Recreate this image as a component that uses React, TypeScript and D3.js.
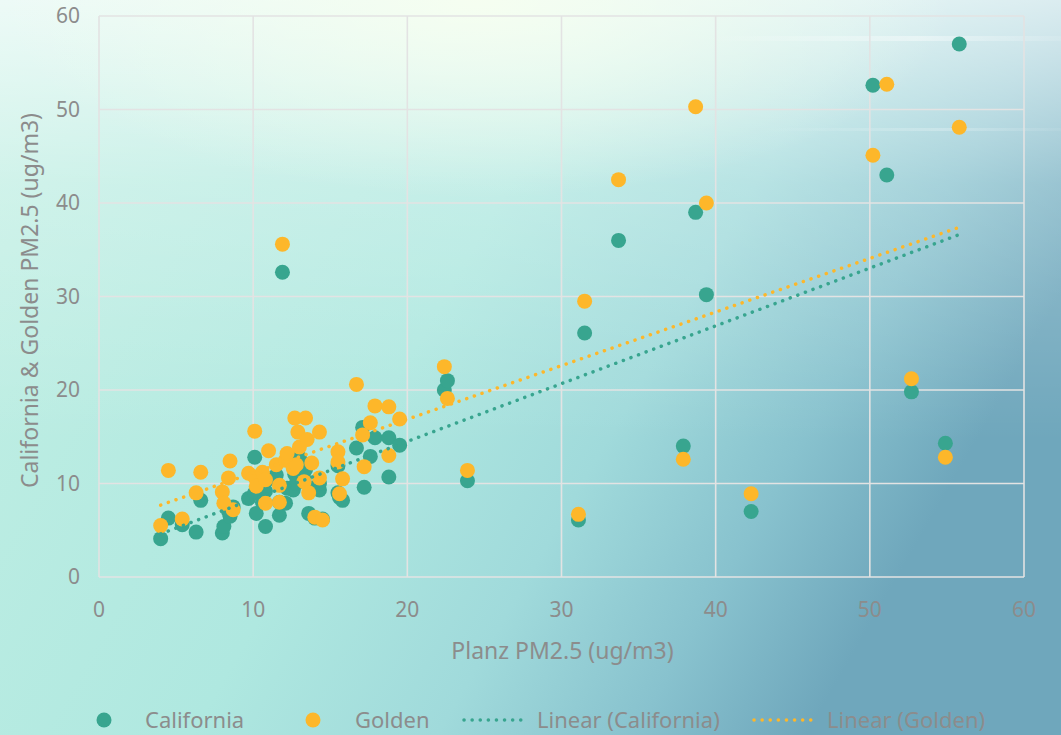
import React, { useMemo } from "react";
import * as d3 from "d3";

// Planz PM2.5 readings and the paired California / Golden readings (ug/m3)
const planz = [
  4.0, 4.5, 5.4, 6.3, 6.6, 8.0, 8.1, 8.4, 8.5, 8.7, 9.7, 10.1, 10.1, 10.2, 10.6, 10.8, 10.8, 11.0,
  11.5, 11.7, 11.7, 11.9, 12.1, 12.2, 12.6, 12.7, 12.8, 12.9, 13.0, 13.3, 13.4, 13.5, 13.6, 13.8,
  14.0, 14.3, 14.3, 14.5, 15.5, 15.5, 15.6, 15.8, 16.7, 17.1, 17.2, 17.6, 17.9, 18.8, 18.8, 19.5,
  22.4, 22.6, 23.9, 31.1, 31.5, 33.7, 37.9, 38.7, 39.4, 42.3, 50.2, 51.1, 52.7, 54.9, 55.8,
];
const california = [
  4.1, 6.3, 5.6, 4.8, 8.2, 4.7, 5.4, 7.0, 6.5, 7.5, 8.4, 12.8, 9.0, 6.8, 8.0, 5.4, 9.2, 10.5,
  10.9, 6.6, 8.0, 32.6, 7.9, 9.5, 9.3, 11.0, 10.0, 12.5, 12.8, 10.5, 11.5, 12.0, 6.8, 9.5,
  6.3, 9.3, 10.0, 6.2, 9.0, 11.9, 8.5, 8.2, 13.8, 16.0, 9.6, 12.9, 14.9, 14.9, 10.7, 14.1,
  20.0, 21.0, 10.3, 6.1, 26.1, 36.0, 14.0, 39.0, 30.2, 7.0, 52.6, 43.0, 19.8, 14.3, 57.0,
];
const golden = [
  5.5, 11.4, 6.2, 9.0, 11.2, 9.1, 7.9, 10.6, 12.4, 7.2, 11.1, 15.6, 10.7, 9.7, 11.2, 10.4, 7.9, 13.5,
  12.0, 8.0, 9.8, 35.6, 12.5, 13.2, 11.6, 17.0, 12.0, 15.5, 13.9, 10.2, 17.0, 14.7, 9.0, 12.2,
  6.4, 10.6, 15.5, 6.1, 13.4, 12.3, 8.9, 10.5, 20.6, 15.2, 11.8, 16.5, 18.3, 18.2, 13.0, 16.9,
  22.5, 19.1, 11.4, 6.7, 29.5, 42.5, 12.6, 50.3, 40.0, 8.9, 45.1, 52.7, 21.2, 12.8, 48.1,
];
const ticks = [0, 10, 20, 30, 40, 50, 60];
const seriesNames = ["California", "Golden"];
const trendNames = ["Linear (California)", "Linear (Golden)"];
const xTitle = "Planz PM2.5 (ug/m3)";
const yTitle = "California & Golden PM2.5 (ug/m3)";

const W = 1061;
const H = 735;
const TEAL = "#38a58f";
const GOLD = "#fdb72a";
const TEXT = "#8c8c8c";
const GRID = "#e3e3e3";
const FONT = "'Noto Sans', sans-serif";

function linear(xs: number[], ys: number[]) {
  const mx = d3.mean(xs)!;
  const my = d3.mean(ys)!;
  const sxy = d3.sum(xs, (x, i) => (x - mx) * (ys[i] - my));
  const sxx = d3.sum(xs, (x) => (x - mx) * (x - mx));
  const b = sxy / sxx;
  return { a: my - b * mx, b };
}

export default function App() {
  const x = d3.scaleLinear().domain([0, 60]).range([99, 1024]);
  const y = d3.scaleLinear().domain([0, 60]).range([577, 16]);

  const series = [
    { name: seriesNames[0], color: TEAL, vals: california },
    { name: seriesNames[1], color: GOLD, vals: golden },
  ];

  const trends = useMemo(() => {
    const [x0, x1] = d3.extent(planz) as [number, number];
    return series.map((s) => {
      const { a, b } = linear(planz, s.vals);
      const line = d3.line<number>().x((v) => x(v)).y((v) => y(a + b * v));
      return { color: s.color, d: line([x0, x1])! };
    });
  }, []);

  return (
    <svg width={W} height={H} style={{ position: "fixed", left: 0, top: 0 }} fontFamily={FONT}>
      <defs>
        <linearGradient id="bgH" x1="0" y1="0" x2="1" y2="0.4">
          <stop offset="0" stopColor="#c4f0e4" />
          <stop offset="0.5" stopColor="#afe8e0" />
          <stop offset="0.7" stopColor="#a0dadb" />
          <stop offset="0.86" stopColor="#88c2ce" />
          <stop offset="1" stopColor="#6fa7bc" />
        </linearGradient>
        <linearGradient id="bgV" x1="0" y1="0" x2="0" y2="1">
          <stop offset="0" stopColor="#ffffff" stopOpacity="0.7" />
          <stop offset="0.25" stopColor="#ffffff" stopOpacity="0.25" />
          <stop offset="0.6" stopColor="#ffffff" stopOpacity="0" />
        </linearGradient>
        <radialGradient id="glow" cx="0.45" cy="0" r="0.45">
          <stop offset="0" stopColor="#f7fff0" stopOpacity="0.9" />
          <stop offset="1" stopColor="#f7fff0" stopOpacity="0" />
        </radialGradient>
        <linearGradient id="streak" x1="0" y1="0" x2="1" y2="0">
          <stop offset="0" stopColor="#ffffff" stopOpacity="0" />
          <stop offset="0.6" stopColor="#ffffff" stopOpacity="0.4" />
          <stop offset="1" stopColor="#ffffff" stopOpacity="0.1" />
        </linearGradient>
      </defs>
      <rect width={W} height={H} fill="url(#bgH)" />
      <rect width={W} height={H} fill="url(#bgV)" />
      <rect width={W} height={H * 0.6} fill="url(#glow)" />
      <rect x={700} y={36} width={361} height={5} fill="url(#streak)" />
      <rect x={760} y={128} width={301} height={3} fill="url(#streak)" opacity={0.6} />

      {/* grid */}
      <g stroke={GRID} strokeWidth={1.6}>
        {ticks.map((t) => (
          <line key={"gx" + t} x1={x(t)} x2={x(t)} y1={y(0)} y2={y(60)} />
        ))}
        {ticks.map((t) => (
          <line key={"gy" + t} x1={x(0)} x2={x(60)} y1={y(t)} y2={y(t)} />
        ))}
      </g>

      {/* tick labels */}
      <g fill={TEXT} fontSize={21}>
        {ticks.map((t) => (
          <text key={"tx" + t} x={x(t)} y={y(0) + 40} textAnchor="middle">
            {t}
          </text>
        ))}
        {ticks.map((t) => (
          <text key={"ty" + t} x={80} y={y(t)} dy="0.35em" textAnchor="end">
            {t}
          </text>
        ))}
      </g>

      <text x={(x(0) + x(60)) / 2 + 1} y={659} textAnchor="middle" fill={TEXT} fontSize={23}>
        {xTitle}
      </text>
      <text
        transform={`translate(38, ${(y(0) + y(60)) / 2 + 4}) rotate(-90)`}
        textAnchor="middle"
        fill={TEXT}
        fontSize={23}
      >
        {yTitle}
      </text>

      {/* points */}
      {series.map((s) => (
        <g key={s.name} fill={s.color}>
          {planz.map((p, i) => (
            <circle key={i} cx={x(p)} cy={y(s.vals[i])} r={7.5} />
          ))}
        </g>
      ))}

      {/* trend lines */}
      {trends.map((t, i) => (
        <path
          key={i}
          d={t.d}
          fill="none"
          stroke={t.color}
          strokeWidth={3.5}
          strokeLinecap="round"
          strokeDasharray="0.1 8"
        />
      ))}

      {/* legend */}
      <g fontSize={22} fill={TEXT}>
        <circle cx={104} cy={720} r={7.5} fill={TEAL} />
        <text x={145} y={720} dy="0.35em">{seriesNames[0]}</text>
        <circle cx={313} cy={720} r={7.5} fill={GOLD} />
        <text x={355} y={720} dy="0.35em">{seriesNames[1]}</text>
        <line x1={464} x2={525} y1={720} y2={720} stroke={TEAL} strokeWidth={3.5} strokeLinecap="round" strokeDasharray="0.1 8" />
        <text x={537} y={720} dy="0.35em">{trendNames[0]}</text>
        <line x1={754} x2={815} y1={720} y2={720} stroke={GOLD} strokeWidth={3.5} strokeLinecap="round" strokeDasharray="0.1 8" />
        <text x={827} y={720} dy="0.35em">{trendNames[1]}</text>
      </g>
    </svg>
  );
}
